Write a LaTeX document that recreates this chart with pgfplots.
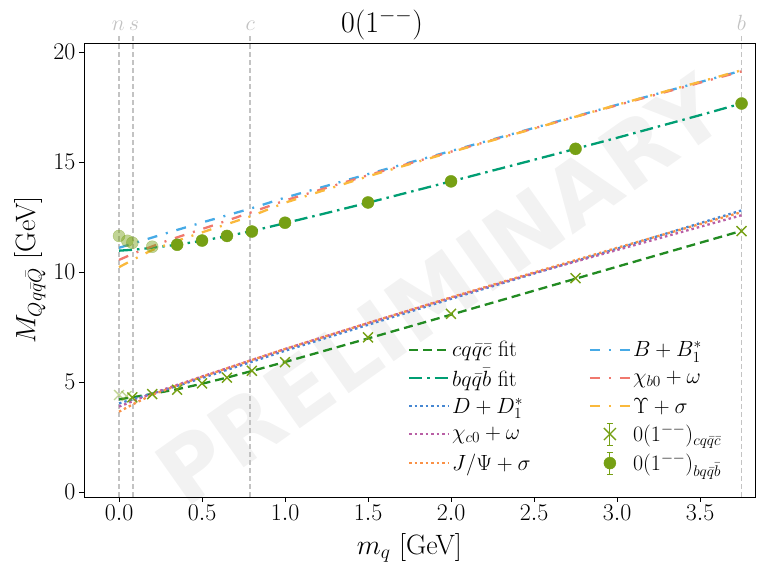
\RequirePackage{fix-cm}
\documentclass[border=0pt]{standalone}
\usepackage{fontspec}
\usepackage{pgfplots}
\pgfplotsset{compat=1.18}
\newfontfamily\wmfont{DejaVu Sans}
\definecolor{cfit}{RGB}{34,139,34}
\definecolor{bfit}{RGB}{0,158,115}
\definecolor{dd}{RGB}{70,135,210}
\definecolor{chic}{RGB}{185,95,165}
\definecolor{jpsi}{RGB}{250,145,70}
\definecolor{bb}{RGB}{70,170,230}
\definecolor{chib}{RGB}{240,120,110}
\definecolor{ups}{RGB}{250,185,60}
\definecolor{mk}{RGB}{118,160,20}
\definecolor{vl}{RGB}{195,195,195}
\begin{document}
\begin{tikzpicture}
\node[rotate=35.3, text=black!5, font=\wmfont\bfseries\fontsize{88}{100}\selectfont] at (356pt,207pt) {PRELIMINARY};
\begin{axis}[
  at={(0pt,0pt)}, anchor=south west,
  scale only axis, width=671pt, height=454pt,
  xmin=-0.211, xmax=3.831, ymin=-0.227, ymax=20.41,
  clip=false,
  axis line style={black, line width=0.9pt},
  tick align=outside, major tick length=5pt,
  tick style={black, line width=0.9pt},
  xtick pos=bottom, ytick pos=left,
  xtick={0,0.5,1,1.5,2,2.5,3,3.5},
  ytick={0,5,10,15,20},
  x tick label style={/pgf/number format/.cd, fixed, fixed zerofill, precision=1},
  tick label style={font=\fontsize{24}{28}\selectfont},
  xlabel={$m_q$ [GeV]},
  ylabel={$M_{Qq\bar{q}\bar{Q}}$ [GeV]},
  label style={font=\fontsize{28}{33}\selectfont},
  xlabel style={at={(axis description cs:0.485,-0.112)}, anchor=center},
  ylabel style={at={(axis description cs:-0.0805,0.5)}, anchor=center},
  legend image code/.code={\draw[#1] (0pt,0pt) -- (40pt,0pt);},
  legend columns=5, transpose legend,
  legend cell align=left,
  legend style={draw=none, fill=none, at={(0.478,0.352)}, anchor=north west,
    font=\fontsize{22}{26}\selectfont, row sep=6pt,
    /tikz/every even column/.append style={column sep=56pt}},
]
% reference lines
\draw[vl, line width=1.5pt, dash pattern=on 5pt off 3pt] (axis cs:0,-0.227) -- (axis cs:0,20.72);
\draw[vl, line width=1.5pt, dash pattern=on 5pt off 3pt] (axis cs:0.085,-0.227) -- (axis cs:0.085,20.72);
\draw[vl, line width=1.5pt, dash pattern=on 5pt off 3pt] (axis cs:0.79,-0.227) -- (axis cs:0.79,20.72);
\draw[vl, line width=1.5pt, dash pattern=on 5pt off 3pt] (axis cs:3.75,-0.227) -- (axis cs:3.75,20.72);
\node[text=vl, anchor=base, font=\fontsize{22}{26}\selectfont] at (axis cs:-0.005,21.0) {$n$};
\node[text=vl, anchor=base, font=\fontsize{22}{26}\selectfont] at (axis cs:0.09,21.0) {$s$};
\node[text=vl, anchor=base, font=\fontsize{22}{26}\selectfont] at (axis cs:0.79,21.0) {$c$};
\node[text=vl, anchor=base, font=\fontsize{22}{26}\selectfont] at (axis cs:3.75,21.0) {$b$};
\node[anchor=base, inner sep=0pt, font=\fontsize{30}{36}\selectfont] at (axis cs:1.584,20.9) {$0(1^{--})$};

% fits
\addplot[cfit, line width=2.3pt, dash pattern=on 9pt off 5pt] coordinates {
(0,4.21) (0.1,4.33) (0.2,4.46) (0.35,4.67) (0.5,4.92) (0.65,5.2) (0.8,5.5) (1.0,5.91) (1.5,6.98) (2.0,8.06) (2.5,9.15) (3.0,10.24) (3.75,11.87)};
\addlegendentry{$cq\bar{q}\bar{c}$ fit}
\addplot[bfit, line width=2.3pt, dash pattern=on 13pt off 5pt on 2.5pt off 5pt] coordinates {
(0,10.97) (0.1,11.02) (0.2,11.1) (0.35,11.24) (0.5,11.42) (0.65,11.63) (0.8,11.86) (1.0,12.22) (1.25,12.68) (1.5,13.15) (2.0,14.12) (2.5,15.1) (3.0,16.1) (3.5,17.13) (3.75,17.66)};
\addlegendentry{$bq\bar{q}\bar{b}$ fit}
% charm thresholds
\addplot[dd, line width=2.3pt, dash pattern=on 2.5pt off 3pt] coordinates {
(0,4.03) (0.1,4.25) (0.2,4.47) (0.35,4.82) (0.5,5.18) (0.8,5.92) (1.0,6.42) (1.5,7.6) (2.0,8.78) (2.5,9.93) (3.0,11.06) (3.75,12.8)};
\addlegendentry{$D+D_1^*$}
\addplot[chic, line width=2.3pt, dash pattern=on 2.5pt off 3pt] coordinates {
(0,3.88) (0.1,4.18) (0.2,4.48) (0.35,4.87) (0.5,5.25) (0.8,6.0) (1.0,6.5) (1.5,7.68) (2.0,8.83) (2.5,9.95) (3.0,11.0) (3.75,12.58)};
\addlegendentry{$\chi_{c0}+\omega$}
\addplot[jpsi, line width=2.3pt, dash pattern=on 2.5pt off 3pt] coordinates {
(0,3.65) (0.1,4.05) (0.2,4.42) (0.35,4.84) (0.5,5.24) (0.8,6.0) (1.0,6.5) (1.5,7.68) (2.0,8.85) (2.5,9.98) (3.0,11.1) (3.75,12.72)};
\addlegendentry{$J/\Psi+\sigma$}
% bottom thresholds
\addplot[bb, line width=2.3pt, dash pattern=on 10pt off 9pt on 2pt off 9pt] coordinates {
(0,11.1) (0.3,11.8) (0.5,12.25) (0.8,12.9) (1.0,13.38) (1.5,14.45) (2.0,15.5) (2.5,16.55) (3.0,17.6) (3.75,19.15)};
\addlegendentry{$B+B_1^*$}
\addplot[chib, line width=2.3pt, dash pattern=on 10pt off 9pt on 2pt off 9pt] coordinates {
(0,10.55) (0.1,10.88) (0.3,11.45) (0.5,11.95) (0.8,12.72) (1.0,13.25) (1.5,14.4) (2.0,15.47) (2.5,16.53) (3.0,17.58) (3.75,19.12)};
\addlegendentry{$\chi_{b0}+\omega$}
\addplot[ups, line width=2.3pt, dash pattern=on 10pt off 9pt on 2pt off 9pt] coordinates {
(0,10.22) (0.1,10.62) (0.2,11.0) (0.4,11.55) (0.6,12.05) (0.8,12.55) (1.0,13.15) (1.5,14.35) (2.0,15.45) (2.5,16.52) (3.0,17.6) (3.75,19.17)};
\addlegendentry{$\Upsilon+\sigma$}
% data
\addplot[mk, only marks, mark=x, mark size=7pt, line width=1.4pt, opacity=0.45, forget plot] coordinates {(0,4.41) (0.045,4.36)};
\addplot[mk, only marks, mark=*, mark size=6pt, opacity=0.45, forget plot] coordinates {(0,11.64) (0.05,11.42) (0.08,11.33) (0.2,11.15)};
\addplot[mk, only marks, mark=x, mark size=7pt, line width=1.4pt,
  legend image code/.code={
    \draw[mk, line width=1pt] (20pt,-11pt) -- (20pt,11pt);
    \draw[mk, line width=1pt] (17pt,-11pt) -- (23pt,-11pt);
    \draw[mk, line width=1pt] (17pt,11pt) -- (23pt,11pt);
    \draw[mk, line width=1.4pt] (14pt,-6pt) -- (26pt,6pt) (14pt,6pt) -- (26pt,-6pt);
  }] coordinates {
(0.08,4.3) (0.2,4.45) (0.35,4.65) (0.5,4.94) (0.65,5.2) (0.8,5.51) (1.0,5.9) (1.5,7.03) (2.0,8.1) (2.75,9.72) (3.75,11.86)};
\addlegendentry{$0(1^{--})_{cq\bar{q}\bar{c}}$}
\addplot[mk, only marks, mark=*, mark size=6pt,
  legend image code/.code={
    \draw[mk, line width=1pt] (20pt,-11pt) -- (20pt,11pt);
    \draw[mk, line width=1pt] (17pt,-11pt) -- (23pt,-11pt);
    \draw[mk, line width=1pt] (17pt,11pt) -- (23pt,11pt);
    \fill[mk] (20pt,0pt) circle (6pt);
  }] coordinates {
(0.35,11.24) (0.5,11.43) (0.65,11.64) (0.8,11.84) (1.0,12.24) (1.5,13.16) (2.0,14.12) (2.75,15.6) (3.75,17.66)};
\addlegendentry{$0(1^{--})_{bq\bar{q}\bar{b}}$}
\end{axis}
\pgfresetboundingbox
\useasboundingbox (-84pt,-72pt) rectangle (680pt,497pt);
\end{tikzpicture}
\end{document}
